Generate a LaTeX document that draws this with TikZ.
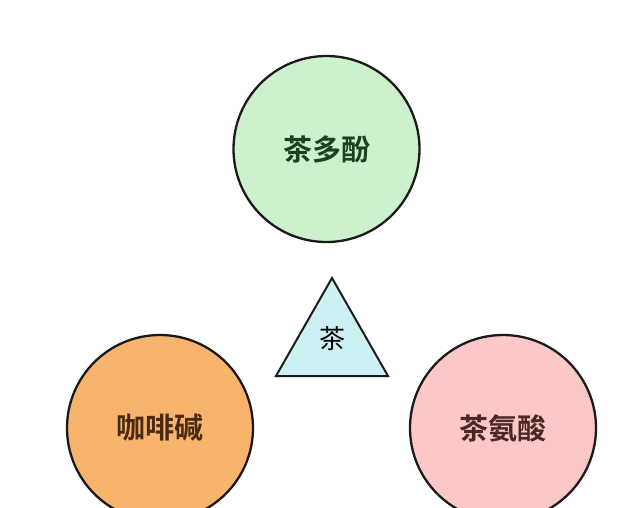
\documentclass[tikz,border=0pt]{standalone}
\usepackage{fontspec}
\newfontfamily\cjk{Noto Sans CJK SC}
\newfontfamily\cjkb{Noto Sans CJK SC Bold}
\definecolor{gfill}{HTML}{CDF1CC}
\definecolor{ofill}{HTML}{F8B36C}
\definecolor{pfill}{HTML}{FBC8C8}
\definecolor{cfill}{HTML}{CCF1F4}
\definecolor{gtext}{HTML}{1F3F22}
\definecolor{otext}{HTML}{4A2A12}
\definecolor{ptext}{HTML}{4D2626}
\definecolor{edge}{HTML}{1A1A1A}
\begin{document}
\begin{tikzpicture}[x=1pt,y=-1pt,
  ball/.style={circle,draw=edge,line width=2.3pt,minimum size=186pt,inner sep=0pt,
    font=\cjkb\fontsize{29}{29}\selectfont},
  tri/.style={draw=edge,line width=2pt,fill=cfill,line join=miter}]
\useasboundingbox[fill=white] (0,0) rectangle (640,507);
\node[ball,fill=gfill,text=gtext] (poly) at (326.5,149) {茶多酚};
\node[ball,fill=ofill,text=otext] (caff) at (160,428) {咖啡碱};
\node[ball,fill=pfill,text=ptext] (thea) at (503,428) {茶氨酸};
\coordinate (ta) at (332,278);
\coordinate (tl) at (276,376);
\coordinate (tr) at (388,376);
\draw[tri] (ta) -- (tr) -- (tl) -- cycle;
\node[font=\cjk\fontsize{26}{26}\selectfont,text=black] (tea) at (332,339) {茶};
\end{tikzpicture}
\end{document}
